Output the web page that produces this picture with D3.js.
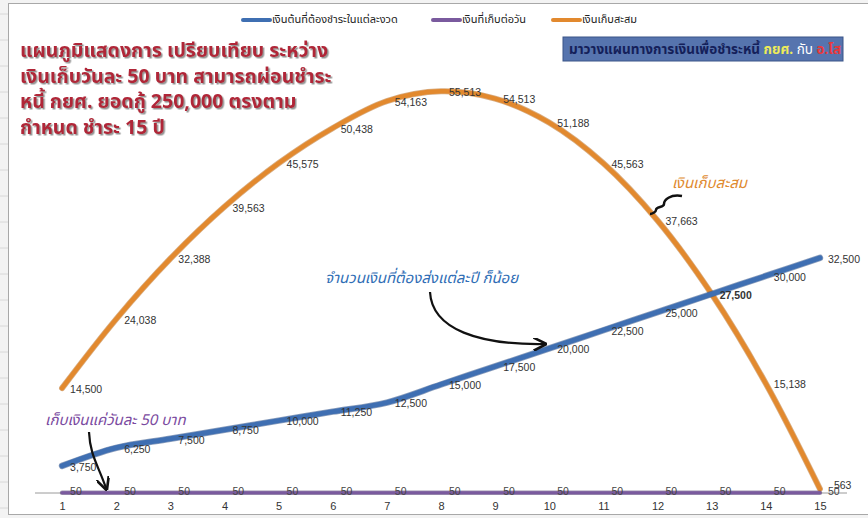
<!DOCTYPE html>
<html><head><meta charset="utf-8">
<script src="https://cdn.jsdelivr.net/npm/d3@7"></script>
<style>
body{margin:0;background:#f3f3f3;}
svg{display:block;font-family:"Noto Sans Thai","Noto Sans",Tahoma,sans-serif;}
</style></head><body>
<svg id="c" width="868" height="518"></svg>
<script>
const years = [1,2,3,4,5,6,7,8,9,10,11,12,13,14,15];
const principal = [3750,6250,7500,8750,10000,11250,12500,15000,17500,20000,22500,25000,27500,30000,32500];
const daily = [50,50,50,50,50,50,50,50,50,50,50,50,50,50,50];
const savings = [14500,24038,32388,39563,45575,50438,54163,55513,54513,51188,45563,37663,27500,15138,563];
const seriesNames = ["เงินต้นที่ต้องชำระในแต่ละงวด","เงินที่เก็บต่อวัน","เงินเก็บสะสม"];
const seriesColors = ["#3F6FB2","#7A5A9E","#E2892E"];
const titleLines = ["แผนภูมิแสดงการ เปรียบเทียบ ระหว่าง","เงินเก็บวันละ 50 บาท สามารถผ่อนชำระ","หนี้ กยศ. ยอดกู้ 250,000 ตรงตาม","กำหนด ชำระ 15 ปี"];

const svg = d3.select("#c");
const defs = svg.append("defs");
const f = defs.append("filter").attr("id","sh").attr("x","-5%").attr("y","-20%").attr("width","110%").attr("height","140%");
f.append("feDropShadow").attr("dx",1.5).attr("dy",1.5).attr("stdDeviation",0.6).attr("flood-color","#888").attr("flood-opacity",0.9);
defs.append("marker").attr("id","ah").attr("viewBox","0 0 10 10").attr("refX",8).attr("refY",5).attr("markerWidth",6).attr("markerHeight",6).attr("orient","auto")
  .append("path").attr("d","M0,0L10,5L0,10").attr("fill","none").attr("stroke","#111").attr("stroke-width",2);

// background sheet lines
const bg = svg.append("g");
for(let yy=14;yy<518;yy+=26) bg.append("line").attr("x1",0).attr("x2",8).attr("y1",yy).attr("y2",yy).attr("stroke","#d8d8d8");
svg.append("rect").attr("x",8.5).attr("y",3.5).attr("width",870).attr("height",511).attr("fill","#fff").attr("stroke","#a8a8a8");

const x = d3.scalePoint().domain(years).range([35,847]).padding(0.5);
const y = d3.scaleLinear().domain([0,66000]).range([493,15.5]);

// x axis
const xa = svg.append("g").attr("transform","translate(0,493)").call(d3.axisBottom(x).tickSize(0).tickPadding(9));
xa.select(".domain").attr("stroke","#9a9a9a").attr("d","M35,0H847");
xa.selectAll("text").attr("font-size",11).attr("fill","#333").attr("font-family","Liberation Sans, Arial, sans-serif");

const fmt = d3.format(",");
const line = d3.line().x((d,i)=>x(years[i])).y(d=>y(d)).curve(d3.curveCatmullRom.alpha(0.5));

function drawSeries(vals, color, w, dark){
  svg.append("path").attr("d",line(vals)).attr("fill","none").attr("stroke",dark).attr("stroke-width",w+1.5).attr("stroke-linecap","round").attr("opacity",0.55);
  svg.append("path").attr("d",line(vals)).attr("fill","none").attr("stroke",color).attr("stroke-width",w).attr("stroke-linecap","round");
}
drawSeries(savings, seriesColors[2], 4.5, "#b86a1c");
drawSeries(principal, seriesColors[0], 5, "#2b4f85");
drawSeries(daily, seriesColors[1], 3, "#4e3a6b");

function labels(vals, dx, dy, col, skip, bold){
  const items = vals.map((v,i)=>({v,i})).filter(o=>!(skip&&skip(o)));
  svg.append("g").selectAll("text").data(items).join("text")
    .attr("x",o=>x(years[o.i])+dx + (o.v<1000 && o.v>100 ? 6 : 0)).attr("y",o=>y(o.v)+dy - (o.v<1000 && o.v>100 ? 5 : 0))
    .attr("font-size",10.5).attr("fill",col).attr("font-family","Liberation Sans, Arial, sans-serif")
    .attr("font-weight",o=>bold&&bold(o)?"bold":"normal")
    .attr("dominant-baseline","middle").text(o=>fmt(o.v));
}
// where savings label coincides with principal label, the two print on top of each other (shown bold)
labels(savings, 8, 2, "#333", o=>o.v===principal[o.i]);
labels(principal, 8, 2, "#333", null, o=>o.v===savings[o.i]);
labels(daily, 8, 0, "#444");

// legend
const leg = [[243,seriesNames[0],seriesColors[0]],[433,seriesNames[1],seriesColors[1]],[553,seriesNames[2],seriesColors[2]]];
leg.forEach(([lx,t,c])=>{
  svg.append("line").attr("x1",lx).attr("x2",lx+27).attr("y1",20).attr("y2",20).attr("stroke",c).attr("stroke-width",4).attr("stroke-linecap","round");
  svg.append("text").attr("x",lx+29).attr("y",20).attr("dominant-baseline","middle").attr("font-size",11).attr("fill","#222").text(t);
});

// title
const tg = svg.append("g").attr("filter","url(#sh)");
titleLines.forEach((t,i)=>{
  tg.append("text").attr("x",20).attr("y",57 + i*25.7).attr("font-size",19.5).attr("font-weight","bold").attr("fill","#B02638").text(t);
});

// box top right
svg.append("rect").attr("x",563).attr("y",37).attr("width",280).attr("height",24).attr("fill","#5674AE").attr("stroke","#3b5488");
const bt = svg.append("text").attr("x",569).attr("y",50).attr("dominant-baseline","middle").attr("font-size",13.5).attr("font-weight","bold");
bt.append("tspan").attr("fill","#14205a").text("มาวางแผนทางการเงินเพื่อชำระหนี้ ");
bt.append("tspan").attr("fill","#EDEB5A").text(" กยศ.");
bt.append("tspan").attr("fill","#ffffff").attr("font-weight","normal").text(" กับ ");
bt.append("tspan").attr("fill","#E8383A").text("อ.โส");

// annotations
svg.append("text").attr("x",672).attr("y",188).attr("font-size",15).attr("font-style","italic").attr("fill","#E08A30").text("เงินเก็บสะสม");
svg.append("path").attr("d","M682,196 C670,194 664,200 664,204 C664,208 656,206 656,210 C656,212 652,214 650,214").attr("fill","none").attr("stroke","#111").attr("stroke-width",2.5);

svg.append("text").attr("x",325).attr("y",283).attr("font-size",15).attr("font-style","italic").attr("fill","#2F6DB5").text("จำนวนเงินที่ต้องส่งแต่ละปี ก็น้อย");
svg.append("path").attr("d","M430,292 C432,330 480,345 544,344").attr("fill","none").attr("stroke","#111").attr("stroke-width",2.2).attr("marker-end","url(#ah)");

svg.append("text").attr("x",45).attr("y",425).attr("font-size",15).attr("font-style","italic").attr("fill","#7A4AA0").text("เก็บเงินแค่วันละ 50 บาท");
svg.append("path").attr("d","M89,432 C90,455 98,465 106,488").attr("fill","none").attr("stroke","#111").attr("stroke-width",2.2).attr("marker-end","url(#ah)");
</script>
</body></html>
